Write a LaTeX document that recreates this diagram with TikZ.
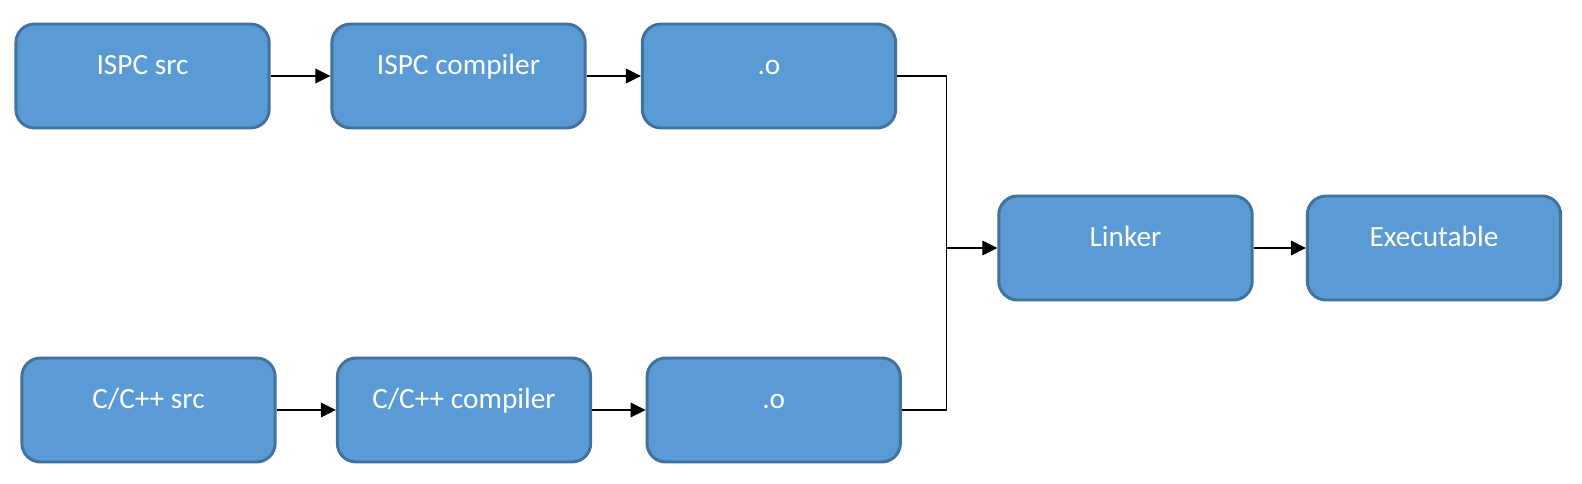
\documentclass[tikz,border=0pt]{standalone}
\usepackage{fontspec}
\setmainfont{Carlito}
\usetikzlibrary{arrows.meta}
\definecolor{boxfill}{HTML}{5B9BD5}
\definecolor{boxline}{HTML}{41719C}
\begin{document}
\begin{tikzpicture}[x=0.75pt,y=-0.75pt,
    stage/.style={draw=boxline,fill=boxfill,line width=2.2pt,rounded corners=14pt,
      minimum width=190pt,minimum height=78pt,inner sep=0pt,text=white,
      font=\fontsize{22}{26}\selectfont,text height=15pt,text depth=18pt},
    flow/.style={line width=0.9pt,-{Triangle[length=11.25pt,width=11pt]}}]
      \useasboundingbox (0,0) rectangle (1582,483) ;
      % ISPC path
      \node[stage] (isrc) at (142.5,76) {ISPC src} ;
      \node[stage] (icomp) at (458.5,76) {ISPC compiler} ;
      \node[stage] (iobj) at (769,76) {.o} ;
      % C/C++ path
      \node[stage] (csrc) at (148.5,410) {C/C++ src} ;
      \node[stage] (ccomp) at (464,410) {C/C++ compiler} ;
      \node[stage] (cobj) at (773.7,410) {.o} ;
      % link step
      \node[stage] (link) at (1125.5,248) {Linker} ;
      \node[stage] (exe) at (1434,248) {Executable} ;
      \coordinate (join) at (946.7,248) ;
      \draw[flow] (isrc) -- (icomp) ;
      \draw[flow] (icomp) -- (iobj) ;
      \draw[flow] (csrc) -- (ccomp) ;
      \draw[flow] (ccomp) -- (cobj) ;
      \draw[line width=0.9pt] (iobj.east) -| (join) ;
      \draw[line width=0.9pt] (cobj.east) -| (join) ;
      \draw[flow] (join) -- (link) ;
      \draw[flow] (link) -- (exe) ;
    \end{tikzpicture}
\end{document}
